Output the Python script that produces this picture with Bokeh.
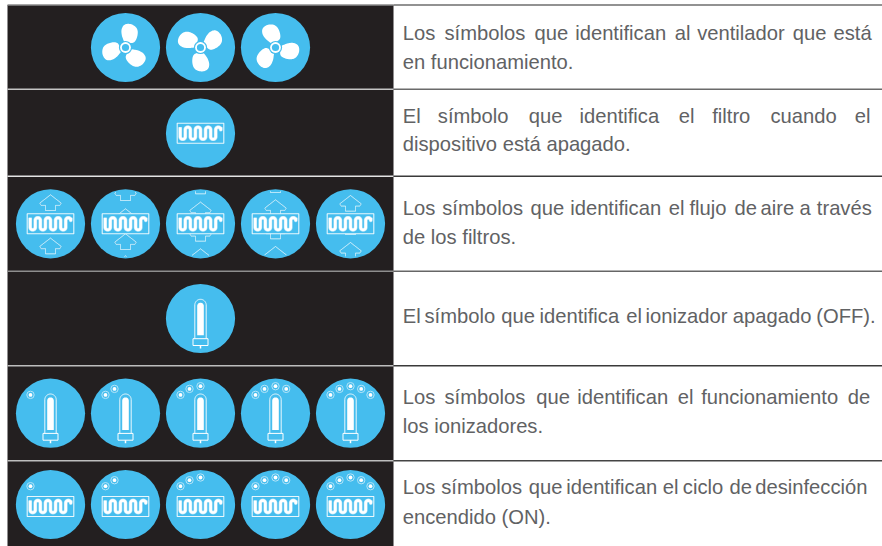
import numpy as np
from bokeh.plotting import figure
from bokeh.models import Range1d
from bokeh.core.properties import value
from bokeh.embed import file_html
from bokeh.resources import INLINE

BLACK = "#231f20"
BLUE = "#45bdee"
PALE = "#b4e4f8"
TEXT = "#616264"
FONT = "Liberation Sans"
FSIZE = "20.2px"
TEXT_DX = -1.0
TEXT_DY = -10.5

# ---- table content -------------------------------------------------------
rule_y = [4.5, 88.7, 175.8, 270.8, 365.2, 460.3]
rule_left = ["#8a8a8a", "#c4c4c4", "#e4e4e4", "#8e8e8e", "#bdbdbd", "#bdbdbd"]
rule_right = ["#6e6e6e", "#6a6a6a", "#3a3a3a", "#666666", "#3a3a3a", "#444444"]

lines = [
    (42.7, ["Los", "símbolos", "que", "identifican", "al", "ventilador", "que", "está"],
     [403.3, 445, 535, 575.7, 675.3, 697.7, 793.3, 834]),
    (72.3, ["en funcionamiento."], [403.3]),
    (125.7, ["El", "símbolo", "que", "identifica", "el", "filtro", "cuando", "el"],
     [403.3, 438.3, 529.3, 580, 679.3, 712.7, 771, 855.3]),
    (154.3, ["dispositivo está apagado."], [403.3]),
    (217.7, ["Los", "símbolos", "que", "identifican", "el", "flujo", "de", "aire", "a", "través"],
     [403.3, 442.7, 531, 570.7, 669.3, 690, 735, 761, 800, 817.3]),
    (247.3, ["de los filtros."], [403.3]),
    (326.0, ["El", "símbolo", "que", "identifica", "el", "ionizador", "apagado", "(OFF)."],
     [403.3, 425, 501.7, 540, 626.7, 646, 733.3, 816.7]),
    (407.0, ["Los", "símbolos", "que", "identifican", "el", "funcionamiento", "de"],
     [403.3, 445, 536.7, 577.7, 678.3, 701.7, 848.3]),
    (436.0, ["los ionizadores."], [403.3]),
    (497.0, ["Los", "símbolos", "que", "identifican", "el", "ciclo", "de", "desinfección"],
     [403.3, 441.7, 529.3, 566.7, 663.3, 683.3, 730, 755.7]),
    (527.0, ["encendido (ON)."], [403.3]),
]

row_cy = [47, 132.7, 223.3, 318, 412.7, 504]
five_x = [50, 125, 200, 275, 350]
fan_x = [125, 200, 275]
fan_rot = [-44, 0, 44]

# arrow tip offsets from each circle's centre, row 3
arrow_tips = [
    [-29.0, -7.0, 14.3, 36.0],
    [-39.0, -15.0, 10.0, 32.0],
    [-45.7, -21.7, 1.7, 25.0],
    [-47.0, -24.0, -0.7, 22.7],
    [-28.3, -5.0, 18.7, 41.0],
]
# indicator dot offsets, built up one dot per icon
dot_dx = [-20, -11, 0, 10.7, 20]
dot_dy = [-18.3, -24.3, -27, -24.3, -18.3]

R = 34.6

p = figure(width=882, height=546, x_range=Range1d(0, 882), y_range=Range1d(546, 0),
           output_backend="svg", toolbar_location=None, min_border=0,
           outline_line_color=None,
           background_fill_color="white", border_fill_color="white")
p.xaxis.visible = False
p.yaxis.visible = False
p.xgrid.visible = False
p.ygrid.visible = False

# panel
p.quad(left=[7], right=[393], top=[4.5], bottom=[546], fill_color=BLACK, line_color=None)
for y, cl, cr in zip(rule_y, rule_left, rule_right):
    p.line([7, 393], [y, y], line_color=cl, line_width=1.4)
    p.line([393, 882], [y, y], line_color=cr, line_width=1.4)


def disc(cx, cy):
    p.circle([cx], [cy], radius=R, fill_color=BLUE, line_color=None)


def chaikin(pts, n=3):
    pts = np.asarray(pts, float)
    for _ in range(n):
        nxt = np.roll(pts, -1, axis=0)
        q = 0.75 * pts + 0.25 * nxt
        r = 0.25 * pts + 0.75 * nxt
        pts = np.empty((len(q) * 2, 2))
        pts[0::2] = q
        pts[1::2] = r
    return pts


BLADE = chaikin([(-2.6, 5.2), (-7.5, 7.0), (-8.6, 14.5), (-6.6, 21.5), (0.3, 24.5),
                 (7.5, 22.5), (9.2, 16.5), (7.0, 10.5), (4.3, 7.0), (3.0, 5.0)])


def fan(cx, cy, rot):
    for k in range(3):
        a = np.radians(rot + 120 * k)
        c, s = np.cos(a), np.sin(a)
        xs = cx + BLADE[:, 0] * c - BLADE[:, 1] * s
        ys = cy + BLADE[:, 0] * s + BLADE[:, 1] * c
        p.patch(xs, ys, fill_color="white", line_color=None)
    p.circle([cx], [cy], radius=6.6, fill_color=BLUE, line_color=None)
    p.circle([cx], [cy], radius=5.4, fill_color="white", line_color=None)
    p.circle([cx], [cy], radius=3.6, fill_color=BLUE, line_color=None)


def serpentine():
    """Four U loops: vertical sides joined by half circles."""
    half = 5.075
    r = half / 2
    reach = 3.5
    xs, ys = [-20.3], [-6.0]
    th = np.linspace(0, np.pi, 14)
    for k in range(8):
        x0 = -20.3 + k * half
        if k % 2 == 0:  # bottom turn
            xs += list(x0 + r - r * np.cos(th))
            ys += list(reach + r * np.sin(th))
        else:  # top turn
            xs += list(x0 + r - r * np.cos(th))
            ys += list(-reach - r * np.sin(th))
    xs.append(20.3)
    ys.append(-6.0)
    return np.array(xs), np.array(ys)


SX, SY = serpentine()


def filt(cx, cy):
    p.quad(left=[cx - 23.3], right=[cx + 23.3], top=[cy - 10], bottom=[cy + 10],
           fill_color=BLUE, line_color="#e8f7fd", line_width=1.1)
    p.line(cx + SX, cy + SY, line_color=PALE, line_width=3.8, line_join="round")
    p.line(cx + SX, cy + SY, line_color="white", line_width=2.6, line_join="round")


ARROW = np.array([(0, 0), (10.7, 8.3), (9.4, 10.6), (5, 10.6), (5, 15.7), (-5, 15.7),
                  (-5, 10.6), (-9.4, 10.6), (-10.7, 8.3), (0, 0)])


def arrow(cx, cy, tip):
    xs, ys = [], []
    for a, b in zip(ARROW[:-1], ARROW[1:]):
        for f in np.linspace(0, 1, 30):
            xs.append(a[0] + (b[0] - a[0]) * f)
            ys.append(tip + a[1] + (b[1] - a[1]) * f)
    xs, ys = np.array(xs), np.array(ys)
    out = xs ** 2 + ys ** 2 > (R - 1.6) ** 2
    xs, ys = cx + xs, cy + ys
    xs[out] = np.nan
    ys[out] = np.nan
    p.line(xs, ys, line_color="#eaf8fe", line_width=1.0)


def tube(cx, cy):
    th = np.linspace(np.pi, 2 * np.pi, 24)
    ox = np.concatenate(([-5.7], 5.7 * np.cos(th), [5.7]))
    oy = np.concatenate(([20.3], -13.5 + 5.7 * np.sin(th), [20.3]))
    p.line(cx + ox, cy + oy, line_color="#e8f7fd", line_width=1.0)
    ix = np.concatenate(([-3.3], 3.3 * np.cos(th), [3.3]))
    iy = np.concatenate(([16.8], -12.5 + 3.3 * np.sin(th), [16.8]))
    p.patch(cx + ix, cy + iy, fill_color="white", line_color=None)
    p.quad(left=[cx - 7.5], right=[cx + 7.5], top=[cy + 20.2], bottom=[cy + 27],
           fill_color=BLUE, line_color="white", line_width=1.0)
    p.line([cx, cx], [cy + 27, cy + 30], line_color="white", line_width=1.5)


def dots(cx, cy, n):
    xs = [cx + d for d in dot_dx[:n]]
    ys = [cy + d for d in dot_dy[:n]]
    p.circle(xs, ys, radius=3.7, fill_color=BLUE, line_color=PALE, line_width=1.0)
    p.circle(xs, ys, radius=1.9, fill_color="white", line_color=None)


# row 1
for x, rot in zip(fan_x, fan_rot):
    disc(x, row_cy[0])
    fan(x, row_cy[0], rot)
# row 2
disc(200, row_cy[1])
filt(200, row_cy[1])
# row 3
for x, tips in zip(five_x, arrow_tips):
    disc(x, row_cy[2])
    for t in tips:
        arrow(x, row_cy[2], t)
    filt(x, row_cy[2])
# row 4
disc(200, row_cy[3])
tube(200, row_cy[3])
# row 5
for i, x in enumerate(five_x):
    disc(x, row_cy[4])
    dots(x, row_cy[4], i + 1)
    tube(x, row_cy[4])
# row 6
for i, x in enumerate(five_x):
    disc(x, row_cy[5])
    dots(x, row_cy[5], i + 1)
    filt(x, row_cy[5] + 2)

# text
for base, words, xs in lines:
    p.text([x + TEXT_DX for x in xs], [base + TEXT_DY] * len(xs), text=words,
           text_color=TEXT, text_font=value(FONT), text_font_size=value(FSIZE),
           text_align="left", text_baseline="alphabetic")

open("out.html", "w").write(file_html(p, INLINE))
